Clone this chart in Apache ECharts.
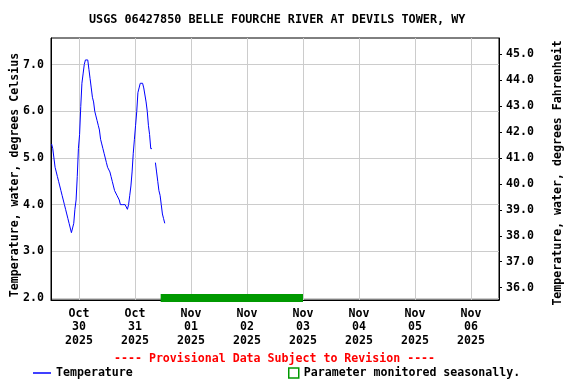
<!DOCTYPE html>
<html>
<head>
<meta charset="utf-8">
<script src="https://cdn.jsdelivr.net/npm/echarts@6/dist/echarts.min.js"></script>
<style>html,body{margin:0;padding:0;background:#fff}#c{width:576px;height:384px}</style>
</head>
<body>
<div id="c"></div>
<script>
const titleText = 'USGS 06427850 BELLE FOURCHE RIVER AT DEVILS TOWER, WY';
const provisionalText = '---- Provisional Data Subject to Revision ----';
const seriesName = 'Temperature';
const seasonalName = 'Parameter monitored seasonally.';
const leftAxisName = 'Temperature, water, degrees Celsius';
const rightAxisName = 'Temperature, water, degrees Fahrenheit';

const startTime = '2025-10-29T12:15:00';
const stepMinutes = 30;
const tempC = [
  5.3, 5.2, 5.0, 4.8, 4.7, 4.6, 4.5, 4.4, 4.3, 4.2,
  4.1, 4.0, 3.9, 3.8, 3.7, 3.6, 3.5, 3.4, 3.5, 3.6,
  3.9, 4.1, 4.6, 5.2, 5.5, 6.1, 6.6, 6.8, 7.0, 7.1,
  7.1, 7.1, 6.9, 6.7, 6.5, 6.3, 6.2, 6.0, 5.9, 5.8,
  5.7, 5.6, 5.4, 5.3, 5.2, 5.1, 5.0, 4.9, 4.8, 4.8,
  4.7, 4.6, 4.5, 4.4, 4.3, 4.3, 4.2, 4.2, 4.1, 4.0,
  4.0, 4.0, 4.0, 4.0, 4.0, 3.9, 4.0, 4.2, 4.4, 4.7,
  5.1, 5.4, 5.7, 6.0, 6.4, 6.5, 6.6, 6.6, 6.6, 6.5,
  6.5, 6.2, 6.0, 5.7, 5.5, 5.2, 5.2, null, null, 4.9,
  4.7, 4.5, 4.3, 4.2, 4.0, 3.8, 3.7, 3.6
];

const seasonalStart = '2025-10-31T11:00:00';
const seasonalEnd = '2025-11-03T00:00:00';
const seasonalLevel = 2.0;

const xMin = '2025-10-29T12:00:00';
const xMax = '2025-11-06T12:00:00';
const xTickDays = ['2025-10-30T00:00:00','2025-10-31T00:00:00','2025-11-01T00:00:00','2025-11-02T00:00:00',
                   '2025-11-03T00:00:00','2025-11-04T00:00:00','2025-11-05T00:00:00','2025-11-06T00:00:00'];
const cTicks = [2, 3, 4, 5, 6, 7];
const fTicks = [36, 37, 38, 39, 40, 41, 42, 43, 44, 45];
const cMin = 1.957, cMax = 7.57;

const MONTHS = ['Jan','Feb','Mar','Apr','May','Jun','Jul','Aug','Sep','Oct','Nov','Dec'];
const t0 = new Date(startTime).getTime();
const lineData = tempC.map((v, i) => [t0 + i * stepMinutes * 60000, v]);
const seasonalData = [[new Date(seasonalStart).getTime(), seasonalLevel], [new Date(seasonalEnd).getTime(), seasonalLevel]];
const xTickVals = xTickDays.map(s => new Date(s).getTime());

const FONT = 'DejaVu Sans Mono';
const txt = {fontFamily: FONT, fontWeight: 'bold', fontSize: 11.6, color: '#000'};

const chart = echarts.init(document.getElementById('c'), null, {renderer: 'canvas'});
chart.setOption({
  animation: false,
  backgroundColor: '#fff',
  title: {
    text: titleText, left: 89, top: 14, padding: 0,
    textStyle: Object.assign({}, txt, {fontSize: 11.8})
  },
  graphic: [{
    type: 'text', left: 114, top: 353,
    style: {text: provisionalText, fill: '#ff0000', font: 'bold 11.6px "DejaVu Sans Mono"'}
  }],
  legend: [{
    left: 33, top: 367, padding: 0, itemWidth: 18, itemHeight: 1.5,
    textStyle: txt,
    data: [{name: seriesName, icon: 'rect', itemStyle: {color: '#0000ff'}}]
  }, {
    left: 288, top: 367, padding: 0, itemWidth: 10, itemHeight: 10,
    textStyle: txt,
    data: [{name: seasonalName, icon: 'rect', itemStyle: {color: '#ffffff', borderColor: '#009900', borderWidth: 1.5}}]
  }],
  grid: {left: 51, right: 77, top: 38, bottom: 84, show: true, borderColor: '#000', borderWidth: 1,
    backgroundColor: 'transparent', containLabel: false, outerBoundsMode: 'none'},
  xAxis: {
    type: 'value', min: new Date(xMin).getTime(), max: new Date(xMax).getTime(),
    axisLine: {show: true, onZero: false, lineStyle: {color: '#000', width: 1}},
    axisTick: {show: false, customValues: xTickVals},
    splitLine: {show: true, lineStyle: {color: '#cccccc', width: 1}},
    axisLabel: {
      customValues: xTickVals, margin: 7, lineHeight: 13.5,
      fontFamily: FONT, fontWeight: 'bold', fontSize: 11.6, color: '#000',
      formatter: function (v) {
        const d = new Date(v);
        return MONTHS[d.getMonth()] + '\n' + String(d.getDate()).padStart(2, '0') + '\n' + d.getFullYear();
      }
    }
  },
  yAxis: [{
    type: 'value', min: cMin, max: cMax, position: 'left',
    name: leftAxisName, nameLocation: 'middle', nameGap: 30, nameMoveOverlap: false,
    nameTextStyle: Object.assign({}, txt, {padding: [0, 12, 0, 0]}),
    axisLine: {show: true, onZero: false, lineStyle: {color: '#000'}},
    axisTick: {show: false, customValues: cTicks},
    splitLine: {show: true, lineStyle: {color: '#cccccc', width: 1}},
    axisLabel: {customValues: cTicks, margin: 7, fontFamily: FONT, fontWeight: 'bold', fontSize: 11.6, color: '#000',
      formatter: v => v.toFixed(1)}
  }, {
    type: 'value', min: cMin * 1.8 + 32, max: cMax * 1.8 + 32, position: 'right',
    name: rightAxisName, nameLocation: 'middle', nameGap: 53, nameMoveOverlap: false,
    nameTextStyle: Object.assign({}, txt, {padding: [0, 8, 0, 0]}),
    axisLine: {show: true, onZero: false, lineStyle: {color: '#000'}},
    axisTick: {show: true, length: 3, customValues: fTicks, lineStyle: {color: '#000'}},
    splitLine: {show: false},
    axisLabel: {customValues: fTicks, margin: 7, fontFamily: FONT, fontWeight: 'bold', fontSize: 11.6, color: '#000',
      formatter: v => v.toFixed(1)}
  }],
  series: [{
    name: seriesName, type: 'line', yAxisIndex: 0, data: lineData,
    showSymbol: false, symbol: 'none', connectNulls: false,
    lineStyle: {color: '#0000ff', width: 1}, itemStyle: {color: '#0000ff'}
  }, {
    name: seasonalName, type: 'line', yAxisIndex: 0, data: seasonalData,
    showSymbol: false, symbol: 'none',
    lineStyle: {color: '#009900', width: 8, cap: 'butt'}, itemStyle: {color: '#009900'}
  }]
});
</script>
</body>
</html>
